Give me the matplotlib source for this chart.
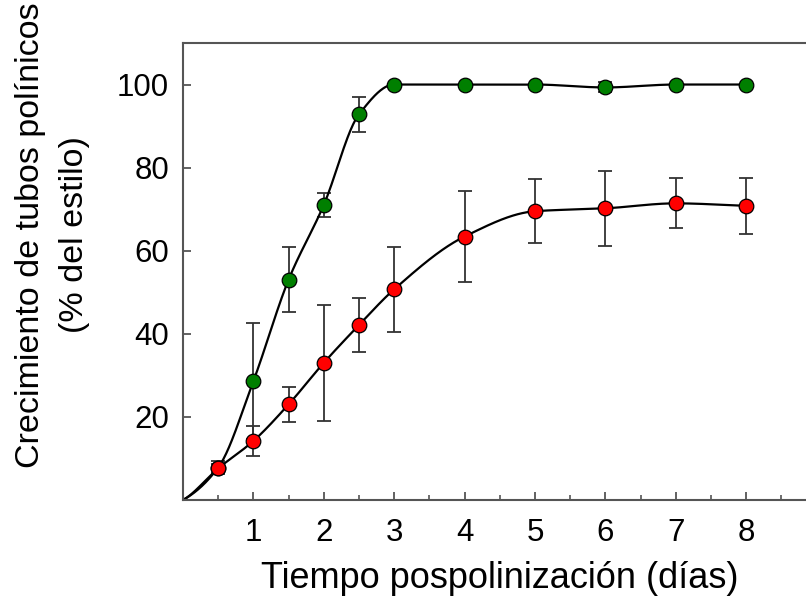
import matplotlib
matplotlib.use('Agg')
import matplotlib.pyplot as plt
import numpy as np

plt.rcParams['font.family'] = ['Liberation Sans', 'DejaVu Sans']

# data
days = [0.5, 1, 1.5, 2, 2.5, 3, 4, 5, 6, 7, 8]
green = [7.8, 28.6, 53.0, 71.0, 92.8, 100.0, 100.0, 100.0, 99.3, 100.0, 100.0]
green_err = [1.5, 14.0, 7.8, 2.8, 4.3, 0.0, 0.0, 0.0, 1.2, 0.0, 0.0]
red = [7.6, 14.2, 23.0, 33.0, 42.1, 50.7, 63.4, 69.5, 70.2, 71.4, 70.8]
red_err = [1.0, 3.5, 4.3, 14.0, 6.5, 10.2, 11.0, 7.7, 9.0, 6.0, 6.7]


def pchip(x, y, xs):
    # monotone cubic through the points (no scipy here)
    x = np.asarray(x, float); y = np.asarray(y, float)
    h = np.diff(x); d = np.diff(y) / h
    m = np.zeros_like(y)
    for k in range(1, len(x) - 1):
        if d[k - 1] * d[k] > 0:
            w1 = 2 * h[k] + h[k - 1]; w2 = h[k] + 2 * h[k - 1]
            m[k] = (w1 + w2) / (w1 / d[k - 1] + w2 / d[k])
    m[0] = d[0] * 0.6
    m[-1] = d[-1]
    i = np.clip(np.searchsorted(x, xs) - 1, 0, len(x) - 2)
    t = (xs - x[i]) / h[i]
    h00 = 2*t**3 - 3*t**2 + 1; h10 = t**3 - 2*t**2 + t
    h01 = -2*t**3 + 3*t**2; h11 = t**3 - t**2
    return h00*y[i] + h10*h[i]*m[i] + h01*y[i+1] + h11*h[i]*m[i+1]


fig = plt.figure(figsize=(8.06, 5.97), dpi=100)
ax = fig.add_axes([0.227, 0.1625, 0.786, 0.7655])

xs = np.linspace(0, 8, 600)
for vals, errs, col, z in [(green, green_err, '#007f00', 3), (red, red_err, '#ff0000', 4)]:
    ax.plot(xs, pchip([0] + days, [0] + vals, xs), color='black', lw=1.6, zorder=2)
    ax.errorbar(days, vals, yerr=errs, fmt='none', ecolor='#333333', elinewidth=1.3,
                capsize=5, capthick=1.3, zorder=1)
    ax.plot(days, vals, 'o', color=col, mec='black', mew=0.9, ms=10.5, zorder=z)

ax.set_xlim(0, 9)
ax.set_ylim(0, 110)
ax.set_xticks(range(1, 9))
ax.set_xticks(np.arange(0.5, 9, 0.5), minor=True)
ax.set_yticks([20, 40, 60, 80, 100])
ax.tick_params(direction='in', labelsize=22.5, length=6, width=1.3, color='#555555', pad=10)
ax.tick_params(axis='x', pad=13)
ax.tick_params(which='minor', direction='in', length=3.5, width=1.2, color='#555555')
for s in ['left', 'top', 'bottom']:
    ax.spines[s].set_color('#555555')
    ax.spines[s].set_linewidth(1.5)
ax.spines['right'].set_visible(False)

ax.set_xlabel('Tiempo pospolinización (días)', fontsize=26, labelpad=9)
ax.set_ylabel('Crecimiento de tubos polínicos\n(% del estilo)', fontsize=24.5,
              linespacing=1.55)
ax.yaxis.set_label_coords(-0.147, 0.58)

fig.savefig('out.png', dpi=100)
